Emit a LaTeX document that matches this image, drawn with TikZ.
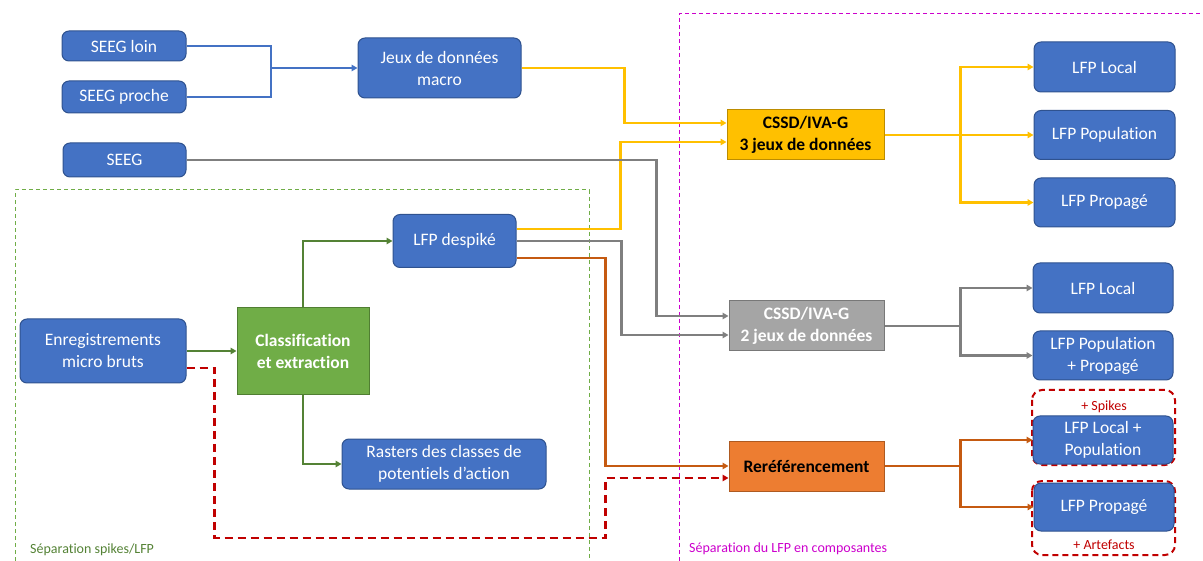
\documentclass[tikz,border=0pt]{standalone}
\usepackage{fontspec}
\setmainfont{Carlito}[RawFeature={-liga;-clig;-calt;-dlig;-rlig}]
\usetikzlibrary{arrows.meta,calc}
\definecolor{bfill}{HTML}{4472C4}
\definecolor{bdraw}{HTML}{2F528F}
\definecolor{gfill}{HTML}{70AD47}
\definecolor{gdraw}{HTML}{507E32}
\definecolor{yfill}{HTML}{FFC000}
\definecolor{ydraw}{HTML}{BC8C00}
\definecolor{grfill}{HTML}{A5A5A5}
\definecolor{grdraw}{HTML}{787878}
\definecolor{ofill}{HTML}{ED7D31}
\definecolor{odraw}{HTML}{AE5A21}
\definecolor{glink}{HTML}{7F7F7F}
\definecolor{olink}{HTML}{C55A11}
\definecolor{grlink}{HTML}{548235}
\definecolor{rlink}{HTML}{C00000}
\definecolor{mag}{HTML}{CC00CC}
\tikzset{
  bbox/.style={draw=bdraw, fill=bfill, line width=1pt, rounded corners=7pt, text=white, align=center,
     font=\fontsize{17.5}{22}\selectfont, inner sep=0pt},
  sqbox/.style={line width=1pt, align=center, font=\bfseries\fontsize{17.5}{22}\selectfont, inner sep=0pt},
  lnk/.style={line width=2.4pt},
  tip/.style={-{Triangle[length=6pt,width=6.5pt]}},
  small/.style={font=\fontsize{14}{16}\selectfont, inner sep=0pt}
}
\begin{document}
\begin{tikzpicture}[x=1pt,y=-1pt]
\useasboundingbox (0,0) rectangle (1203,561);
% regions
\draw[gfill, dash pattern=on 4pt off 3pt, line width=1pt] (15,561) -- (15,190) -- (589,190) -- (589,561);
\draw[mag, dash pattern=on 4pt off 3pt, line width=1pt] (679,561) -- (679,14) -- (1203,14);
\node[small, text=grlink, anchor=west] (lab1) at (30,550) {Séparation spikes/LFP};
\node[small, text=mag, anchor=west] (lab2) at (689,549) {Séparation du LFP en composantes};

% red dashed frames
\draw[rlink, line width=2pt, dash pattern=on 6pt off 4pt, rounded corners=10pt] (1032,390) rectangle (1175,465);
\draw[rlink, line width=2pt, dash pattern=on 6pt off 4pt, rounded corners=10pt] (1032,481) rectangle (1175,555);

% nodes
\node[bbox, minimum width=124pt, minimum height=30pt] (seegloin) at (124,46) {SEEG loin};
\node[bbox, minimum width=124pt, minimum height=32pt] (seegproche) at (124,97) {SEEG proche};
\node[bbox, minimum width=163pt, minimum height=60pt] (macro) at (439.5,68) {Jeux de données\\macro};
\node[bbox, minimum width=123pt, minimum height=34pt] (seeg) at (124.5,160) {SEEG};
\node[bbox, minimum width=123pt, minimum height=53pt] (despike) at (454.5,241) {LFP despiké};
\node[bbox, minimum width=166pt, minimum height=64pt] (enreg) at (103,351) {Enregistrements\\micro bruts};
\node[sqbox, draw=gdraw, fill=gfill, text=white, minimum width=132pt, minimum height=87pt] (class) at (303,351) {Classification\\et extraction};
\node[bbox, minimum width=204pt, minimum height=50pt] (rasters) at (444,464) {Rasters des classes de\\potentiels d’action};

\node[sqbox, draw=ydraw, fill=yfill, text=black, minimum width=157pt, minimum height=50pt] (cssd3) at (805.5,135) {CSSD/IVA-G\\3 jeux de données};
\node[sqbox, draw=grdraw, fill=grfill, text=white, minimum width=155pt, minimum height=50pt] (cssd2) at (806.5,326) {CSSD/IVA-G\\2 jeux de données};
\node[sqbox, draw=odraw, fill=ofill, text=black, minimum width=155pt, minimum height=50pt] (reref) at (806.5,466) {Reréférencement};

\node[bbox, minimum width=141pt, minimum height=50pt] (yl) at (1104.5,67) {LFP Local};
\node[bbox, minimum width=141pt, minimum height=49pt] (ypop) at (1104.5,135) {LFP Population};
\node[bbox, minimum width=141pt, minimum height=49pt] (yprop) at (1104.5,202.5) {LFP Propagé};
\node[bbox, minimum width=140pt, minimum height=50pt] (gl) at (1103,288) {LFP Local};
\node[bbox, minimum width=140pt, minimum height=49pt] (gpp) at (1103,355.5) {LFP Population\\+ Propagé};
\node[bbox, minimum width=140pt, minimum height=48pt] (olp) at (1103,440) {LFP Local +\\Population};
\node[bbox, minimum width=140pt, minimum height=48pt] (oprop) at (1104,507) {LFP Propagé};
\node[small, text=rlink] (spk) at (1104,407) {+ Spikes};
\node[small, text=rlink] (art) at (1104,545) {+ Artefacts};

% blue links
\coordinate (bj) at (271,68);
\draw[lnk, bfill] (seegloin.east) -| (bj);
\draw[lnk, bfill] (seegproche.east) -| (bj);
\draw[lnk, bfill, tip] (bj) -- (macro.west);

% green links
\draw[lnk, grlink, tip] (enreg.east) -- (class.west);
\draw[lnk, grlink, tip] (class.north) |- (despike.west);
\draw[lnk, grlink, tip] (class.south) |- (rasters.west);

% yellow links
\draw[lnk, yfill, tip] (macro.east) -- ++(103,0) |- ([yshift=12pt]cssd3.west);
\draw[lnk, yfill, tip] ([yshift=12pt]despike.east) -- ++(104,0) |- ([yshift=-7pt]cssd3.west);
\draw[lnk, yfill] (cssd3.east) -- ++(76,0) coordinate (yj);
\draw[lnk, yfill, tip] (yj) |- (yl.west);
\draw[lnk, yfill, tip] (yj) -- (ypop.west);
\draw[lnk, yfill, tip] (yj) |- (yprop.west);

% gray links
\draw[lnk, glink, tip] (seeg.east) -- ++(470,0) |- ([yshift=10pt]cssd2.west);
\draw[lnk, glink, tip] (despike.east) -- ++(105,0) |- ([yshift=-9pt]cssd2.west);
\draw[lnk, glink] (cssd2.east) -- ++(76,0) coordinate (gj);
\draw[lnk, glink, tip] (gj) |- (gl.west);
\draw[lnk, glink, tip] (gj) |- (gpp.west);

% orange links
\draw[lnk, olink, tip] ([yshift=-17pt]despike.east) -- ++(89,0) |- (reref.west);
\draw[lnk, olink] (reref.east) -- ++(76,0) coordinate (oj);
\draw[lnk, olink, tip] (oj) |- (olp.west);
\draw[lnk, olink, tip] (oj) |- (oprop.west);

% red dashed link
\draw[lnk, rlink, dash pattern=on 8pt off 5pt, tip] ([yshift=-17pt]enreg.east) -- ++(28,0) -- ++(0,170) -- ++(391,0) |- ([yshift=-12pt]reref.west);
\end{tikzpicture}
\end{document}
